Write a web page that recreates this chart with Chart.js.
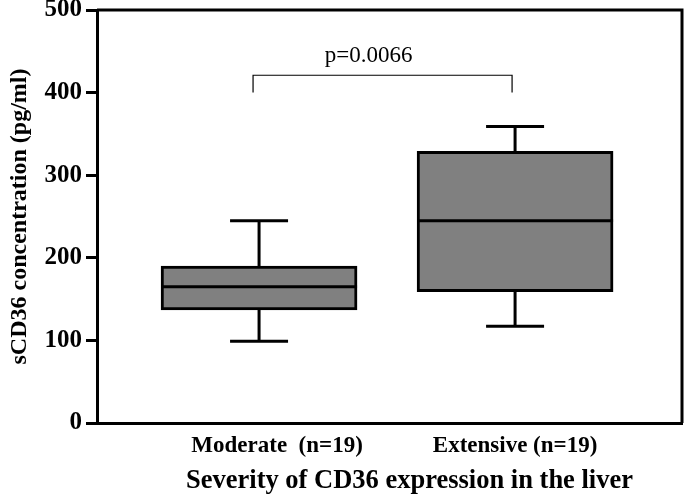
<!DOCTYPE html>
<html lang="en">
<head>
    <meta charset="UTF-8">
    <title>sCD36 concentration by CD36 expression</title>
    <script src="https://cdn.jsdelivr.net/npm/chart.js"></script>
    <style>
        * { margin: 0; padding: 0; box-sizing: border-box; }
        body { background: #fff; width: 685px; height: 498px; overflow: hidden; }
        .wrap { position: relative; width: 685px; height: 498px; }
    </style>
</head>
<body>
    <div class="wrap">
        <canvas id="boxChart"></canvas>
    </div>

    <script>
        // Data
        const groups = ['Moderate  (n=19)', 'Extensive (n=19)'];
        const groupPos = [1, 2];
        const whiskerLow = [99, 117];
        const quart1 = [137, 159];
        const medians = [165, 245];
        const quart3 = [190, 329];
        const whiskerHigh = [245, 359];
        const yTicks = [0, 100, 200, 300, 400, 500];
        const pLabel = 'p=0.0066';
        const bracketTop = 421;
        const bracketEnd = 400;
        const xTitle = 'Severity of CD36 expression in the liver';
        const yTitle = 'sCD36 concentration (pg/ml)';

        const serif = '"Liberation Serif", "Times New Roman", serif';

        // medians, whiskers, frame, bracket and x labels, all via scales
        const boxExtras = {
            id: 'boxExtras',
            afterDatasetsDraw(chart) {
                const { ctx, chartArea: a, scales: { x, y } } = chart;
                const capHalf = 29;
                const boxHalf = 98;
                const labelNudge = [18, 0];
                ctx.save();
                ctx.strokeStyle = '#000';
                ctx.fillStyle = '#000';
                ctx.lineCap = 'butt';

                groupPos.forEach((g, i) => {
                    const cx = x.getPixelForValue(g);
                    ctx.lineWidth = 3;
                    // median
                    ctx.beginPath();
                    ctx.moveTo(cx - boxHalf, y.getPixelForValue(medians[i]));
                    ctx.lineTo(cx + boxHalf, y.getPixelForValue(medians[i]));
                    ctx.stroke();
                    // whiskers
                    ctx.beginPath();
                    ctx.moveTo(cx, y.getPixelForValue(quart3[i]));
                    ctx.lineTo(cx, y.getPixelForValue(whiskerHigh[i]));
                    ctx.moveTo(cx, y.getPixelForValue(quart1[i]));
                    ctx.lineTo(cx, y.getPixelForValue(whiskerLow[i]));
                    ctx.moveTo(cx - capHalf, y.getPixelForValue(whiskerHigh[i]));
                    ctx.lineTo(cx + capHalf, y.getPixelForValue(whiskerHigh[i]));
                    ctx.moveTo(cx - capHalf, y.getPixelForValue(whiskerLow[i]));
                    ctx.lineTo(cx + capHalf, y.getPixelForValue(whiskerLow[i]));
                    ctx.stroke();

                    // category label under the axis
                    ctx.font = 'bold 23px ' + serif;
                    ctx.textAlign = 'center';
                    ctx.textBaseline = 'alphabetic';
                    ctx.fillText(groups[i], cx + labelNudge[i], a.bottom + 29);
                });

                // axis title
                ctx.font = 'bold 26.5px ' + serif;
                ctx.fillText(xTitle, (a.left + a.right) / 2 + 20, a.bottom + 65);

                // significance bracket
                const x1 = x.getPixelForValue(groupPos[0]) - 6;
                const x2 = x.getPixelForValue(groupPos[1]) - 3;
                const yt = y.getPixelForValue(bracketTop);
                const ye = y.getPixelForValue(bracketEnd);
                ctx.lineWidth = 1.2;
                ctx.beginPath();
                ctx.moveTo(x1, ye);
                ctx.lineTo(x1, yt);
                ctx.lineTo(x2, yt);
                ctx.lineTo(x2, ye);
                ctx.stroke();

                ctx.font = '23px ' + serif;
                ctx.fillText(pLabel, (x1 + x2) / 2 - 14, yt - 13);

                // top and right frame
                ctx.lineWidth = 3;
                ctx.beginPath();
                ctx.moveTo(a.left, a.top);
                ctx.lineTo(a.right, a.top);
                ctx.lineTo(a.right, a.bottom);
                ctx.stroke();
                ctx.restore();
            }
        };

        const ctx = document.getElementById('boxChart').getContext('2d');
        new Chart(ctx, {
            type: 'bar',
            data: {
                datasets: [{
                    data: groupPos.map((g, i) => ({ x: g, y: [quart1[i], quart3[i]] })),
                    backgroundColor: '#808080',
                    borderColor: '#000',
                    borderWidth: 3,
                    borderSkipped: false,
                    barThickness: 196
                }]
            },
            options: {
                responsive: true,
                maintainAspectRatio: false,
                animation: false,
                layout: { padding: { top: 10, right: 3, left: 0, bottom: 0 } },
                plugins: {
                    legend: { display: false },
                    tooltip: { enabled: false }
                },
                scales: {
                    x: {
                        type: 'linear',
                        offset: false,
                        min: 0.367,
                        max: 2.652,
                        afterFit: s => {
                            s.height = 75;
                            s.paddingLeft = 0;
                            s.paddingRight = 0;
                        },
                        grid: { display: false, drawTicks: false, offset: false },
                        border: { display: true, color: '#000', width: 3 },
                        ticks: { display: false }
                    },
                    y: {
                        min: 0,
                        max: 500,
                        afterBuildTicks: s => { s.ticks = yTicks.map(v => ({ value: v })); },
                        afterFit: s => {
                            s.width = 97;
                            s.paddingTop = 0;
                            s.paddingBottom = 0;
                        },
                        grid: {
                            display: true,
                            drawOnChartArea: false,
                            drawTicks: true,
                            tickLength: 11,
                            color: '#000',
                            lineWidth: 3
                        },
                        border: { display: true, color: '#000', width: 3 },
                        ticks: {
                            color: '#000',
                            padding: 4,
                            font: { family: serif, size: 25, weight: 'bold' }
                        },
                        title: {
                            display: true,
                            text: yTitle,
                            color: '#000',
                            padding: { bottom: 0, top: 5 },
                            font: { family: serif, size: 24, weight: 'bold' }
                        }
                    }
                }
            },
            plugins: [boxExtras]
        });
    </script>
</body>
</html>
